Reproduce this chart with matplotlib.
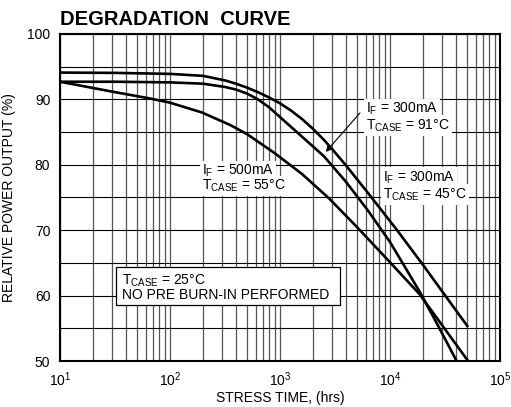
import numpy as np
import matplotlib
matplotlib.use('Agg')
import matplotlib.pyplot as plt
from matplotlib.ticker import LogLocator, MultipleLocator, FixedLocator
from matplotlib.patches import Rectangle

plt.rcParams['font.family'] = ['Liberation Sans', 'DejaVu Sans']
plt.rcParams['mathtext.fontset'] = 'custom'
plt.rcParams['mathtext.rm'] = 'Liberation Sans'
plt.rcParams['mathtext.it'] = 'Liberation Sans:italic'
plt.rcParams['mathtext.bf'] = 'Liberation Sans:bold'

# data: log10(hours) and relative output (%)
log_t_45 = [1.0, 1.5, 2.0, 2.3, 2.5, 2.6, 2.7, 2.8, 2.9, 3.0, 3.1, 3.2, 3.3, 3.4, 3.5,
            3.6, 3.8, 4.06, 4.3, 4.485, 4.71]
out_45 = [94.1, 94.05, 93.9, 93.6, 92.9, 92.4, 91.8, 91.1, 90.3, 89.4, 88.3, 87.0, 85.5,
          83.8, 81.9, 79.9, 75.7, 70.1, 64.7, 60.4, 55.2]

log_t_91 = [1.0, 1.5, 2.0, 2.3, 2.5, 2.6, 2.7, 2.8, 2.9, 3.0, 3.2, 3.4, 3.6, 3.8, 4.0,
            4.27, 4.45, 4.606]
out_91 = [92.7, 92.7, 92.6, 92.4, 91.9, 91.5, 90.9, 90.0, 88.8, 87.3, 84.3, 81.3, 77.4,
          73.0, 68.2, 60.6, 55.0, 50.0]

log_t_55 = [1.0, 1.47, 1.83, 2.0, 2.29, 2.545, 2.7, 2.95, 3.2, 3.45, 3.71, 4.0, 4.27, 4.71]
out_55 = [92.7, 91.2, 90.1, 89.5, 88.0, 86.1, 84.7, 81.8, 78.6, 74.8, 70.3, 65.1, 60.2, 50.0]

x_ticks = [1e1, 1e2, 1e3, 1e4, 1e5]
y_ticks = [50, 60, 70, 80, 90, 100]

fig = plt.figure(figsize=(5.11, 4.07), dpi=100)
ax = fig.add_axes([0.1174, 0.113, 0.861, 0.8035])

for lt, v in [(log_t_45, out_45), (log_t_91, out_91), (log_t_55, out_55)]:
    ax.plot(10 ** np.array(lt), v, color='black', lw=1.9, solid_capstyle='butt',
            solid_joinstyle='round', zorder=3)

ax.set_xscale('log')
ax.set_xlim(1e1, 1e5)
ax.set_ylim(50, 100)
ax.xaxis.set_major_locator(FixedLocator(x_ticks))
ax.xaxis.set_minor_locator(LogLocator(base=10, subs=np.arange(2, 10), numticks=20))
ax.yaxis.set_major_locator(FixedLocator(y_ticks))
ax.yaxis.set_minor_locator(MultipleLocator(5))

ax.grid(True, which='both', axis='x', color='#555555', lw=0.9)
ax.grid(True, which='both', axis='y', color='black', lw=0.8)
ax.tick_params(which='both', length=0, labelsize=10)
ax.tick_params(axis='x', pad=7)
ax.tick_params(axis='y', pad=7)
for s in ax.spines.values():
    s.set_linewidth(1.5)

ax.set_xlabel('STRESS TIME, (hrs)', fontsize=10, labelpad=1)
ax.set_ylabel('RELATIVE POWER OUTPUT (%)', fontsize=10, labelpad=8)
fig.text(0.1174, 0.939, 'DEGRADATION  CURVE', fontsize=14.5, fontweight='bold',
         ha='left', va='baseline')

bb = dict(facecolor='white', edgecolor='none', pad=1.5)
lab = dict(transform=ax.transAxes, fontsize=10, ha='left', va='baseline', bbox=bb, zorder=5)
ax.text(0.695, 0.759, r'I$_{\rm F}$ = 300mA', **lab)
ax.text(0.695, 0.709, r'T$_{\rm CASE}$ = 91°C', **lab)
ax.text(0.323, 0.570, r'I$_{\rm F}$ = 500mA', **lab)
ax.text(0.323, 0.523, r'T$_{\rm CASE}$ = 55°C', **lab)
ax.text(0.734, 0.550, r'I$_{\rm F}$ = 300mA', **lab)
ax.text(0.734, 0.498, r'T$_{\rm CASE}$ = 45°C', **lab)

ax.annotate('', xy=(0.600, 0.633), xytext=(0.686, 0.765), xycoords='axes fraction',
            arrowprops=dict(arrowstyle='-|>', color='black', lw=0.8, mutation_scale=8), zorder=6)

ax.add_patch(Rectangle((0.127, 0.171), 0.509, 0.116, transform=ax.transAxes,
                       facecolor='white', edgecolor='black', lw=0.9, zorder=5))
ax.text(0.140, 0.235, r'T$_{\rm CASE}$ = 25°C', transform=ax.transAxes, fontsize=10,
        ha='left', va='baseline', zorder=6)
ax.text(0.140, 0.189, 'NO PRE BURN-IN PERFORMED', transform=ax.transAxes, fontsize=10,
        ha='left', va='baseline', zorder=6)

fig.savefig('out.png', dpi=100)
